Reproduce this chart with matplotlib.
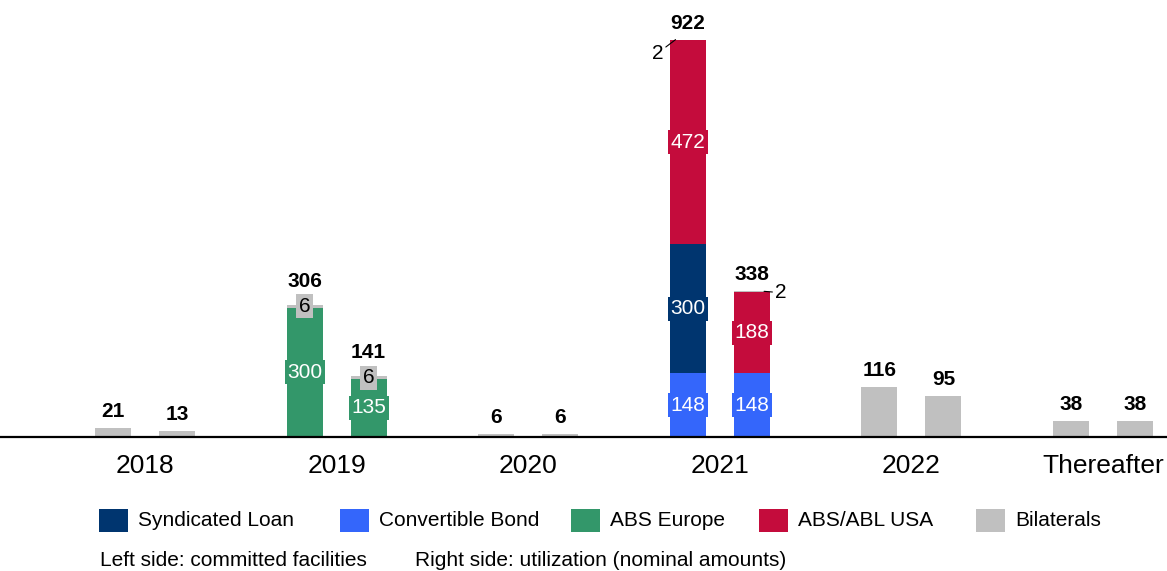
import numpy as np
import matplotlib.pyplot as plt
from matplotlib.patches import Rectangle

plt.rcParams['font.family'] = ['Liberation Sans', 'DejaVu Sans']

categories = ['2018', '2019', '2020', '2021', '2022', 'Thereafter']
series = ['Convertible Bond', 'Syndicated Loan', 'ABS Europe', 'ABS/ABL USA', 'Bilaterals']
colors = ['#3466fb', '#00356f', '#33976a', '#c40c3c', '#c0c0c0']
text_colors = ['white', 'white', 'white', 'white', 'black']

# left bar = committed facilities, right bar = utilization
convertible_left = [0, 0, 0, 148, 0, 0]
syndicated_left = [0, 0, 0, 300, 0, 0]
abs_europe_left = [0, 300, 0, 0, 0, 0]
abs_usa_left = [0, 0, 0, 472, 0, 0]
bilaterals_left = [21, 6, 6, 2, 116, 38]

convertible_right = [0, 0, 0, 148, 0, 0]
syndicated_right = [0, 0, 0, 0, 0, 0]
abs_europe_right = [0, 135, 0, 0, 0, 0]
abs_usa_right = [0, 0, 0, 188, 0, 0]
bilaterals_right = [13, 6, 6, 2, 95, 38]

left = np.array([convertible_left, syndicated_left, abs_europe_left, abs_usa_left, bilaterals_left])
right = np.array([convertible_right, syndicated_right, abs_europe_right, abs_usa_right, bilaterals_right])

legend_order = ['Syndicated Loan', 'Convertible Bond', 'ABS Europe', 'ABS/ABL USA', 'Bilaterals']

W, H = 1167, 571
fig = plt.figure(figsize=(W / 100, H / 100), dpi=100)
ax = fig.add_axes([0, (H - 437) / H, 1, 437 / H])

x = np.arange(len(categories))
width = 0.188
offset = 0.167

# leader-line offsets (points) for the tiny top segments: left bar / right bar
leader = {'left': ((-9, -10), 'right'), 'right': ((8, -1), 'left')}

for side, data, dx in [('left', left, -offset), ('right', right, offset)]:
    xs = x + dx
    bottom = np.zeros(len(categories))
    boxed_top = np.zeros(len(categories), dtype=bool)
    for i, name in enumerate(series):
        vals = data[i]
        ax.bar(xs, vals, width, bottom=bottom, color=colors[i], linewidth=0)
        for j in range(len(categories)):
            v = vals[j]
            nseg = np.count_nonzero(data[:, j])
            if v == 0 or nseg < 2:
                continue
            if v < 4:
                txt_off, ha = leader[side]
                bx = xs[j] - width / 2 + 0.03 if side == 'left' else xs[j] + width / 2 - 0.03
                ax.annotate(str(v), xy=(bx, bottom[j] + v), xytext=txt_off,
                            textcoords='offset points', ha=ha, va='center', fontsize=15,
                            arrowprops=dict(arrowstyle='-', color='black', lw=0.8,
                                            shrinkA=0, shrinkB=0))
                boxed_top[j] = False
            else:
                ax.text(xs[j], bottom[j] + v / 2, str(v), ha='center', va='center',
                        fontsize=15, color=text_colors[i],
                        bbox=dict(boxstyle='square,pad=0.12', fc=colors[i], ec='none'))
                boxed_top[j] = v < 30
        bottom += vals
    for j in range(len(categories)):
        lift = 10 if boxed_top[j] else 5
        ax.annotate(str(int(bottom[j])), xy=(xs[j], bottom[j]), xytext=(0, lift),
                    textcoords='offset points', ha='center', va='bottom',
                    fontsize=15, fontweight='bold')

ax.set_xlim((0 - 145) / 191.6, (W - 145) / 191.6)
ax.set_ylim(0, 437 / 0.431)
ax.set_xticks(x)
ax.set_xticklabels(categories, fontsize=19)
ax.tick_params(axis='x', length=0, pad=12)
ax.set_yticks([])
for s in ['top', 'right', 'left']:
    ax.spines[s].set_visible(False)
ax.spines['bottom'].set_linewidth(1.6)

# legend: squares and labels laid out like the original
sq_x = [99, 340, 571, 759, 976]
for name, px in zip(legend_order, sq_x):
    c = colors[series.index(name)]
    fig.add_artist(Rectangle((px / W, (H - 532) / H), 29 / W, 23 / H,
                             transform=fig.transFigure, color=c, lw=0))
    fig.text((px + 39) / W, (H - 520) / H, name, fontsize=15, va='center', ha='left')

fig.text(100 / W, (H - 560) / H, 'Left side: committed facilities', fontsize=15, va='center')
fig.text(415 / W, (H - 560) / H, 'Right side: utilization (nominal amounts)', fontsize=15, va='center')

fig.savefig('out.png', dpi=100)
